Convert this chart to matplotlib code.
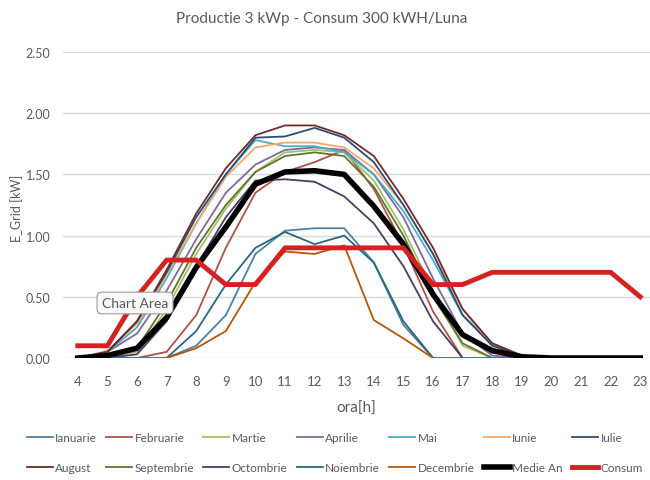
import numpy as np
import matplotlib
matplotlib.use('Agg')
import matplotlib.pyplot as plt

plt.rcParams['font.family'] = ['Lato', 'DejaVu Sans']

hours = list(range(4, 24))

# monthly production per hour (kW)
ianuarie   = [0, 0, 0, 0, 0.10, 0.35, 0.85, 1.04, 1.06, 1.06, 0.78, 0.27, 0, 0, 0, 0, 0, 0, 0, 0]
februarie  = [0, 0, 0, 0.05, 0.35, 0.90, 1.35, 1.52, 1.60, 1.70, 1.38, 0.92, 0.38, 0, 0, 0, 0, 0, 0, 0]
martie     = [0, 0, 0.05, 0.40, 0.85, 1.22, 1.52, 1.68, 1.70, 1.68, 1.45, 1.05, 0.55, 0.10, 0, 0, 0, 0, 0, 0]
aprilie    = [0, 0.05, 0.20, 0.55, 0.97, 1.35, 1.58, 1.70, 1.72, 1.70, 1.50, 1.15, 0.65, 0.20, 0.02, 0, 0, 0, 0, 0]
mai        = [0, 0.05, 0.25, 0.65, 1.10, 1.50, 1.78, 1.73, 1.73, 1.68, 1.50, 1.20, 0.80, 0.35, 0.12, 0.02, 0, 0, 0, 0]
iunie      = [0, 0.06, 0.28, 0.68, 1.10, 1.48, 1.72, 1.76, 1.76, 1.72, 1.55, 1.25, 0.85, 0.40, 0.10, 0.02, 0, 0, 0, 0]
iulie      = [0, 0.05, 0.30, 0.70, 1.15, 1.50, 1.80, 1.81, 1.88, 1.80, 1.60, 1.25, 0.85, 0.35, 0.10, 0.02, 0, 0, 0, 0]
august     = [0, 0.05, 0.30, 0.72, 1.18, 1.55, 1.82, 1.90, 1.90, 1.82, 1.65, 1.30, 0.90, 0.40, 0.12, 0.02, 0, 0, 0, 0]
septembrie = [0, 0, 0.08, 0.45, 0.90, 1.25, 1.52, 1.65, 1.68, 1.65, 1.40, 1.00, 0.50, 0.12, 0, 0, 0, 0, 0, 0]
octombrie  = [0, 0, 0.03, 0.30, 0.75, 1.15, 1.45, 1.46, 1.44, 1.32, 1.10, 0.75, 0.30, 0, 0, 0, 0, 0, 0, 0]
noiembrie  = [0, 0, 0, 0, 0.22, 0.60, 0.90, 1.03, 0.93, 1.00, 0.78, 0.30, 0, 0, 0, 0, 0, 0, 0, 0]
decembrie  = [0, 0, 0, 0, 0.08, 0.22, 0.62, 0.87, 0.85, 0.92, 0.31, 0.16, 0, 0, 0, 0, 0, 0, 0, 0]
medie_an   = [0, 0.02, 0.08, 0.33, 0.74, 1.07, 1.42, 1.52, 1.53, 1.50, 1.24, 0.93, 0.52, 0.19, 0.06, 0.01, 0, 0, 0, 0]
consum     = [0.1, 0.1, 0.5, 0.8, 0.8, 0.6, 0.6, 0.9, 0.9, 0.9, 0.9, 0.9, 0.6, 0.6, 0.7, 0.7, 0.7, 0.7, 0.7, 0.5]

series = [
    ('Ianuarie', ianuarie, '#4f81a0'),
    ('Februarie', februarie, '#b0504d'),
    ('Martie', martie, '#a3c068'),
    ('Aprilie', aprilie, '#80699b'),
    ('Mai', mai, '#4bacc6'),
    ('Iunie', iunie, '#f0a96d'),
    ('Iulie', iulie, '#2c4d75'),
    ('August', august, '#6e2c2a'),
    ('Septembrie', septembrie, '#5f7530'),
    ('Octombrie', octombrie, '#4d3b62'),
    ('Noiembrie', noiembrie, '#276a7c'),
    ('Decembrie', decembrie, '#b65708'),
]

grey = '#595959'
fig = plt.figure(figsize=(6.5, 4.81), dpi=100)
ax = fig.add_axes([63/650, 122/481, 587/650, 306/481])

for name, vals, col in series:
    ax.plot(hours, vals, color=col, lw=1.3, label=name)
ax.plot(hours, medie_an, color='black', lw=4, label='Medie An')
ax.plot(hours, consum, color='#d42222', lw=3.5, label='Consum')

ax.set_xlim(3.5, 23.33)
ax.set_ylim(0, 2.5)
yt = np.arange(0, 2.51, 0.5)
ax.set_yticks(yt)
ax.set_yticklabels([f'{v:.2f}' for v in yt])
ax.set_xticks(hours)
ax.grid(axis='y', color='#d9d9d9', lw=1)
ax.set_axisbelow(True)
for s in ax.spines.values():
    s.set_visible(False)
ax.tick_params(length=0, colors=grey, labelsize=9)
ax.tick_params(axis='y', pad=9)
ax.tick_params(axis='x', pad=12, labelsize=9.5)

ax.set_xlabel('ora[h]', color=grey, fontsize=11, labelpad=10)
fig.text(17/650, 1 - 208/481, 'E_Grid [kW]', rotation=90, ha='center', va='center',
         color=grey, fontsize=9)
fig.suptitle('Productie 3 kWp - Consum 300 kWH/Luna', x=0.495, y=0.975, color=grey, fontsize=11)

fig.text(135/650, 1 - 304/481, 'Chart Area', ha='center', va='center', color=grey, fontsize=10,
         bbox=dict(boxstyle='round,pad=0.35', fc='#f8f8f8', ec='#9a9a9a', lw=0.8))

# legend filled row by row like the original
handles, labels = ax.get_legend_handles_labels()
order = [i + 7 * r for i in range(7) for r in range(2)]
fig.legend([handles[i] for i in order], [labels[i] for i in order],
           loc='lower left', bbox_to_anchor=(0.03, 0.0, 0.97, 0.14), mode='expand', ncol=7,
           frameon=False, fontsize=8.5, handlelength=2.2, handletextpad=0.2,
           labelspacing=1.6, labelcolor=grey, borderaxespad=0.2)

fig.savefig('out.png', dpi=100)
